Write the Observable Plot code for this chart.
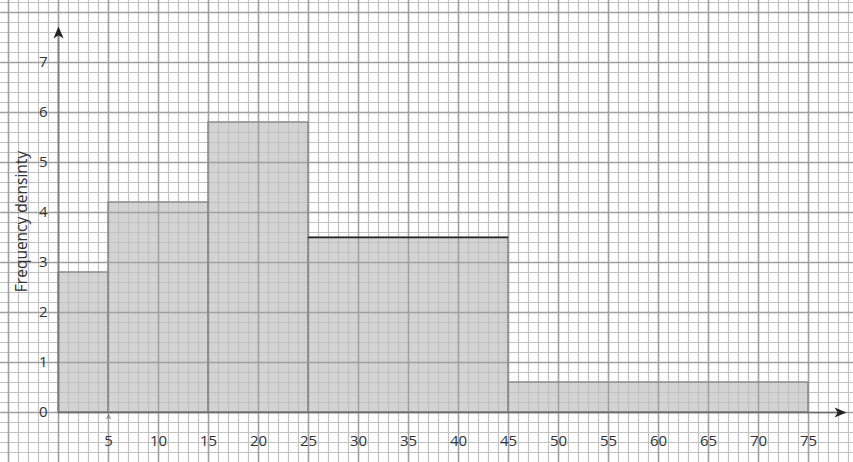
<!DOCTYPE html>
<html>
<head>
<meta charset="utf-8">
<script src="https://cdn.jsdelivr.net/npm/d3@7"></script>
<script src="https://cdn.jsdelivr.net/npm/@observablehq/plot@0.6"></script>
<style>
  html, body { margin: 0; padding: 0; background: #fff; }
  #chart svg { display: block; }
</style>
</head>
<body>
<div id="chart"></div>
<script>
// ---- data ----
const binStarts = [0, 5, 15, 25, 45];
const binEnds   = [5, 15, 25, 45, 75];
const densities = [2.8, 4.2, 5.8, 3.5, 0.6];
const xTicks = [5, 10, 15, 20, 25, 30, 35, 40, 45, 50, 55, 60, 65, 70, 75];
const yTicks = [0, 1, 2, 3, 4, 5, 6, 7];
const yTitle = "Frequency densinty";

const bars = binStarts.map((s, i) => ({x1: s, x2: binEnds[i], y: densities[i]}));

// graph-paper grid (1 unit in x, 0.2 unit in y)
const xMin = -5.8, xMax = 79.5, yMin = -1, yMax = 8.24;
const gridX = d3.range(-5, 80);
const gridY = d3.range(-4, 42).map(k => k / 5);
const majorX = gridX.filter(v => v % 5 === 0);
const majorY = gridY.filter(v => Number.isInteger(v));
const minorX = gridX.filter(v => v % 5 !== 0);
const minorY = gridY.filter(v => !Number.isInteger(v));

const arrowUp = {draw(ctx, size) {
  const r = Math.sqrt(size / Math.PI);
  ctx.moveTo(0, -r); ctx.lineTo(0.85 * r, r); ctx.lineTo(0, 0.45 * r); ctx.lineTo(-0.85 * r, r); ctx.closePath();
}};
const arrowRight = {draw(ctx, size) {
  const r = Math.sqrt(size / Math.PI);
  ctx.moveTo(r, 0); ctx.lineTo(-r, -0.85 * r); ctx.lineTo(-0.45 * r, 0); ctx.lineTo(-r, 0.85 * r); ctx.closePath();
}};

const chart = Plot.plot({
  width: 853,
  height: 462,
  marginLeft: 58,
  marginRight: 0,
  marginTop: 0,
  marginBottom: 50,
  style: {fontFamily: "'Open Sans', sans-serif", fontSize: "15px", color: "#333", background: "#fff"},
  x: {domain: [0, 79.5], axis: null},
  y: {domain: [0, 8.24], axis: null},
  marks: [
    Plot.rect(bars, {x1: "x1", x2: "x2", y1: 0, y2: "y", fill: "#d3d3d6"}),
    Plot.ruleX(minorX, {y1: yMin, y2: yMax, stroke: "#c2c2c2", strokeWidth: 1.2}),
    Plot.ruleY(minorY, {x1: xMin, x2: xMax, stroke: "#c2c2c2", strokeWidth: 1.2}),
    Plot.ruleX(majorX, {y1: yMin, y2: yMax, stroke: "#a0a0a0", strokeWidth: 1.6}),
    Plot.ruleY(majorY, {x1: xMin, x2: xMax, stroke: "#a0a0a0", strokeWidth: 1.6}),
    Plot.rect(bars, {x1: "x1", x2: "x2", y1: 0, y2: "y", fill: "none", stroke: "#8c8c8c", strokeWidth: 1.5}),
    Plot.ruleY(bars.filter((d, i) => i === 3), {x1: "x1", x2: "x2", y: "y", stroke: "#222", strokeWidth: 1.5}),
    Plot.ruleY([0], {x1: 0, x2: 78, stroke: "#6a6a6a", strokeWidth: 1.6}),
    Plot.ruleX([0], {y1: 0, y2: 7.6, stroke: "#7a7a7a", strokeWidth: 1.6}),
    Plot.dot([0], {x: 0, y: 7.6, r: 6, symbol: arrowUp, fill: "#222", stroke: "none"}),
    Plot.dot([0], {x: 78.2, y: 0, r: 6, symbol: arrowRight, fill: "#222", stroke: "none"}),
    Plot.text(["^"], {x: 5, y: 0, dy: 6, fontSize: 9, fill: "#444"}),
    Plot.axisX(xTicks, {tickSize: 0, tickPadding: 23, fill: "#333", fontSize: 15, tickFormat: d => String(d)}),
    Plot.axisY(yTicks, {anchor: "left", tickSize: 0, tickPadding: 11, fill: "#333", fontSize: 15,
      tickFormat: d => String(d), label: null}),
    Plot.text([yTitle], {frameAnchor: "left", dx: -36, dy: 15, rotate: -90, textAnchor: "middle",
      fontSize: 15.5, fill: "#333", text: d => d})
  ]
});
document.getElementById("chart").appendChild(chart);
</script>
</body>
</html>
